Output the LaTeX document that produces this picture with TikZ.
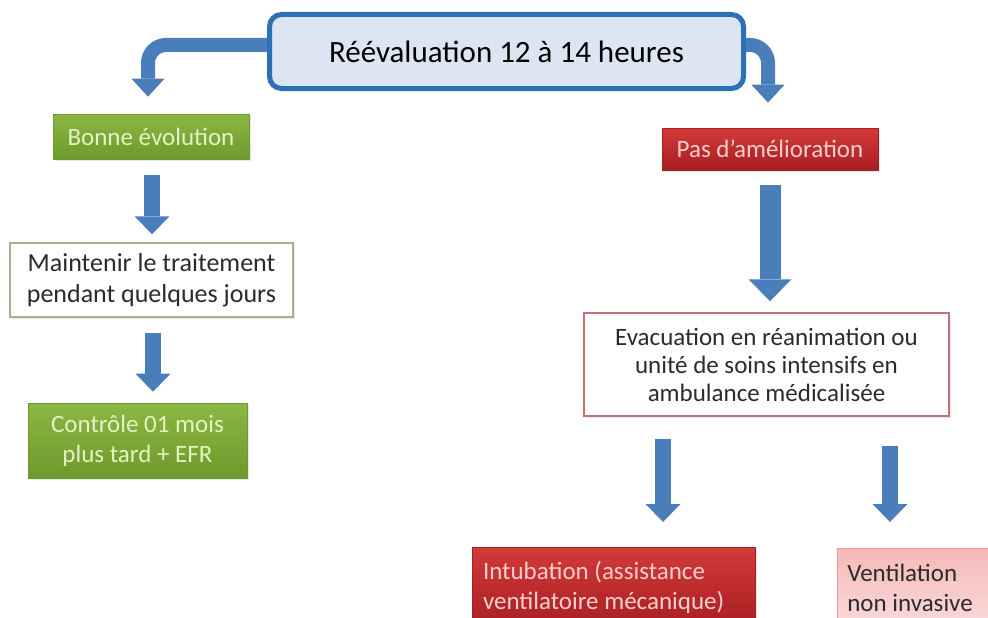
\documentclass[tikz,border=0pt]{standalone}
\usepackage{fontspec}
\setmainfont{Carlito}
\usetikzlibrary{arrows.meta,shadows}
\definecolor{topfill}{HTML}{DCE6F2}
\definecolor{topborder}{HTML}{2E70B5}
\definecolor{arrblue}{HTML}{4A7EBB}
\definecolor{grtop}{HTML}{8DB743}
\definecolor{grbot}{HTML}{6D9A2C}
\definecolor{grtext}{HTML}{E4F2C4}
\definecolor{rdtop}{HTML}{D33A3A}
\definecolor{rdbot}{HTML}{A81E22}
\definecolor{rdtext}{HTML}{F7CFCB}
\definecolor{pktop}{HTML}{F5B9B9}
\definecolor{pkbot}{HTML}{FBDADA}
\definecolor{dtext}{HTML}{2B2B2B}
\definecolor{mtborder}{HTML}{A7B38F}
\definecolor{evborder}{HTML}{C8707A}
\begin{document}
\begin{tikzpicture}[x=1pt,y=-1pt,
  box/.style={inner sep=0pt, align=center, font=\fontsize{25}{30}\selectfont},
  shad/.style={drop shadow={opacity=0.18, shadow xshift=2pt, shadow yshift=-2pt}},
  greenbox/.style={box, shad, top color=grtop, bottom color=grbot, draw=grbot, line width=0.6pt, text=grtext},
  redbox/.style={box, shad, top color=rdtop, bottom color=rdbot, draw=rdbot, line width=0.6pt, text=rdtext},
  pinkbox/.style={box, shad, top color=pktop, bottom color=pkbot, draw=pktop!80!red, line width=0.6pt, text=dtext},
  whitebox/.style={box, shad, fill=white, line width=1.5pt, text=dtext},
  arr/.style={draw=arrblue, line width=16pt, -{Triangle[width=35pt,length=18pt,line width=0pt]}},
  bigarr/.style={draw=arrblue, line width=21pt, -{Triangle[width=43pt,length=22pt,line width=0pt]}},
  carr/.style={draw=arrblue, line width=14pt, rounded corners=18pt, -{Triangle[width=33pt,length=18pt,line width=0pt]}}
]
\useasboundingbox (0,0) rectangle (988,618);
\clip (0,0) rectangle (988,618);
\fill[white] (0,0) rectangle (988,618);

% nodes
\node[greenbox, minimum width=196pt, minimum height=45pt] (bonne) at (151,136.5) {Bonne évolution};
\node[whitebox, draw=mtborder, minimum width=283pt, minimum height=74pt, font=\fontsize{26}{31}\selectfont] (maint) at (151.5,280) {Maintenir le traitement\\pendant quelques jours};
\node[greenbox, minimum width=219pt, minimum height=75pt] (contr) at (137.5,440.5) {Contrôle 01 mois\\plus tard + EFR};
\node[redbox, minimum width=216pt, minimum height=42pt] (pas) at (770,149) {Pas d’amélioration};
\node[whitebox, draw=evborder, minimum width=365pt, minimum height=103pt, font=\fontsize{25}{28}\selectfont] (evac) at (766.5,364.5) {Evacuation en réanimation ou\\unité de soins intensifs en\\ambulance médicalisée};
\node[redbox, anchor=north, minimum width=283pt, minimum height=80pt, text width=261pt, align=flush left] (intub) at (613.5,547) {Intubation (assistance\\ventilatoire mécanique)};
\node[pinkbox, anchor=north west, minimum width=200pt, minimum height=80pt, text width=180pt, align=flush left] (venti) at (837,548) {Ventilation\\non invasive};

% curved arrows from the top box
\draw[carr, shorten >=17pt] ([xshift=6pt,yshift=6.5pt]267,51.5) -| ([xshift=-3pt]bonne.north);
\draw[carr, shorten >=25pt] ([xshift=-6pt,yshift=6.5pt]746,51.5) -| ([xshift=-2pt]pas.north);

\node[draw=topborder, line width=5pt, fill=topfill, rounded corners=12pt, minimum width=474pt, minimum height=74pt, inner sep=0pt, font=\fontsize{31}{36}\selectfont] (top) at (506.5,51.5) {Réévaluation 12 à 14 heures};

% straight arrows
\draw[arr, shorten <=16pt, shorten >=8pt] ([xshift=1pt]bonne.south) -- ([xshift=1pt]bonne.south |- maint.north);
\draw[arr, shorten <=15pt, shorten >=11pt] ([xshift=1.5pt]maint.south) -- ([xshift=1.5pt]maint.south |- contr.north);
\draw[bigarr, shorten <=15pt, shorten >=11pt] (pas.south) -- (pas.south |- evac.north);
\draw[arr, shorten <=22pt, shorten >=25pt] ([xshift=-103.5pt]evac.south) -- ([xshift=-103.5pt]evac.south |- intub.north);
\draw[arr, shorten <=29pt, shorten >=26pt] ([xshift=123.5pt]evac.south) -- ([xshift=123.5pt]evac.south |- venti.north);
\end{tikzpicture}
\end{document}
